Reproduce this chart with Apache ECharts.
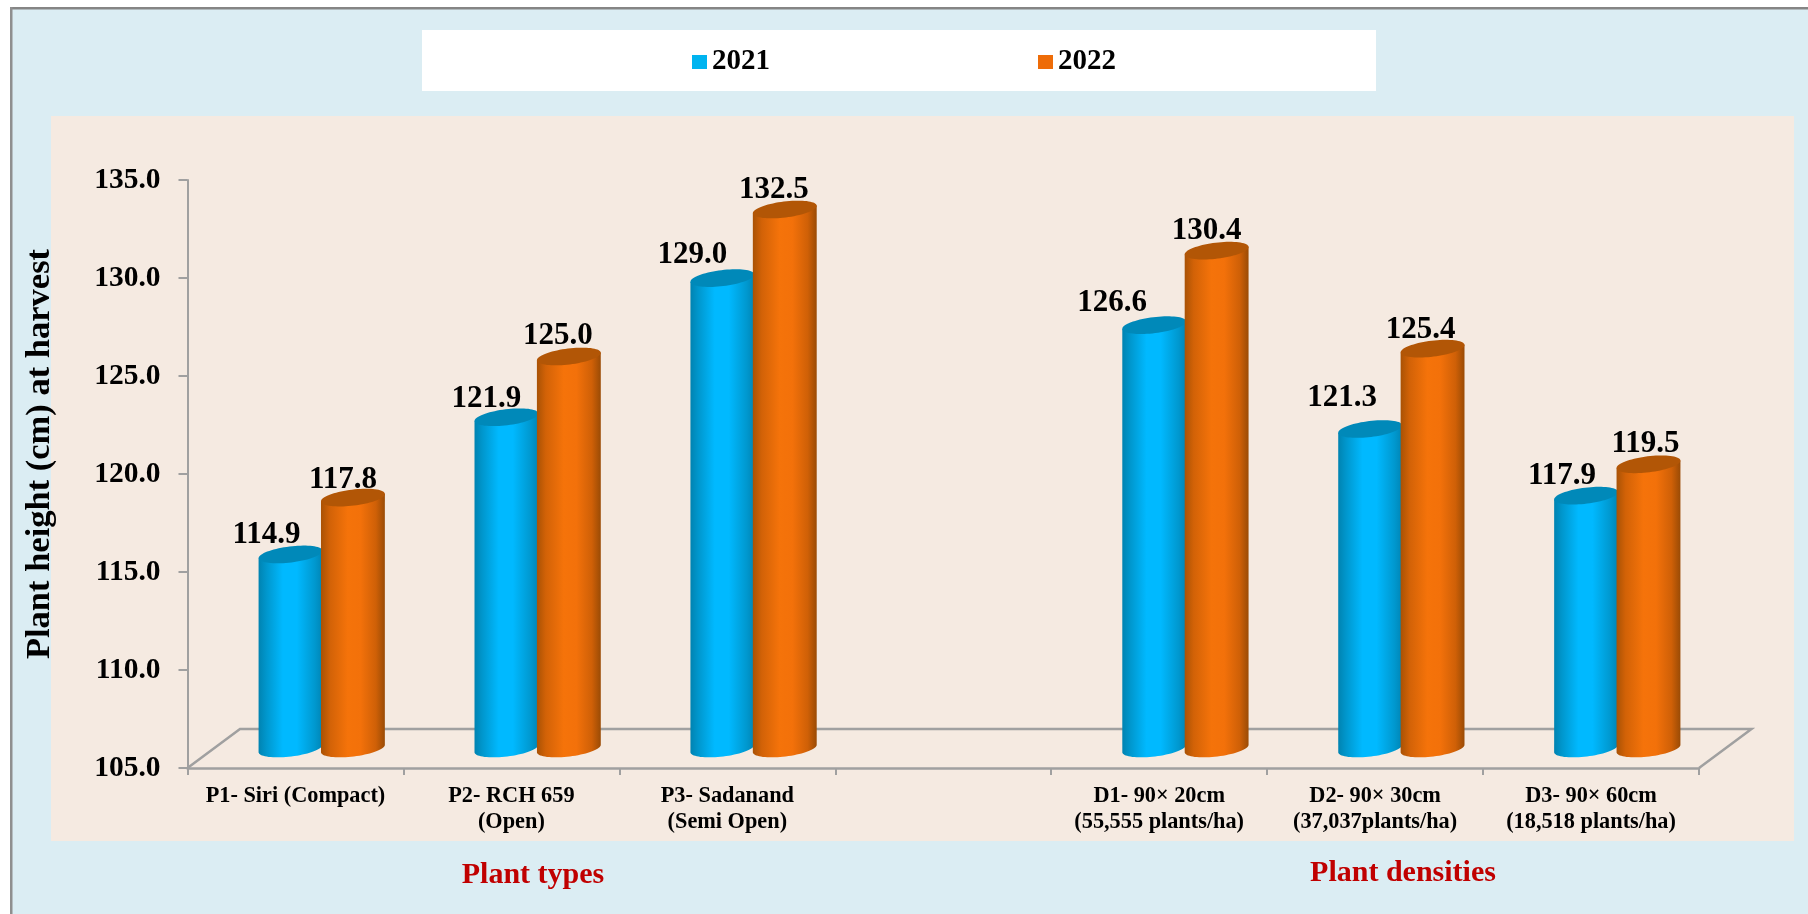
<!DOCTYPE html>
<html><head><meta charset="utf-8">
<style>html,body{margin:0;padding:0;background:#fff}#c{width:1808px;height:914px}</style>
<script src="https://cdn.jsdelivr.net/npm/echarts@6/dist/echarts.min.js"></script>
</head><body><div id="c"></div>
<script>
const categories = ['P1- Siri (Compact)','P2- RCH 659\n(Open)','P3- Sadanand\n(Semi Open)','','D1- 90× 20cm\n(55,555 plants/ha)','D2- 90× 30cm\n(37,037plants/ha)','D3- 90× 60cm\n(18,518 plants/ha)'];
const seriesNames = ['2021','2022'];
const values2021 = [114.9,121.9,129.0,null,126.6,121.3,117.9];
const values2022 = [117.8,125.0,132.5,null,130.4,125.4,119.5];
const axisTitle = 'Plant height (cm) at harvest';
const groupTitles = ['Plant types','Plant densities'];

// hand-placed data label nudges in the reference [dx, dy]
const labelNudge2021 = [[-24,-19],[-20,-18],[-30,-23],null,[-42,-22],[-28,-31],[-24,-20]];
const labelNudge2022 = [[-10,-18],[-11,-21],[-11,-20],null,[-10,-20],[-12,-19],[-3,-20]];

const SERIF = '"Liberation Serif","Times New Roman",serif';
const DEPTH_X = 52.5, DEPTH_Y = 39;

function vGrad(stops){
  return {type:'linear',x:0,y:0,x2:1,y2:0,colorStops:stops.map(s=>({offset:s[0],color:s[1]}))};
}
const looks = [
  {body:vGrad([[0,'#0083b1'],[0.12,'#0096cc'],[0.38,'#00b9ff'],[0.6,'#00b9ff'],[0.88,'#0098cf'],[1,'#0085b5']]),cap:'#0089b9'},
  {body:vGrad([[0,'#a95205'],[0.14,'#d26207'],[0.42,'#f5730a'],[0.62,'#f3710a'],[0.86,'#cf6007'],[1,'#9a4b05']]),cap:'#b25606'}
];
const pal = ['#00b4f0','#ee6c08'];
const BAR_W = 0.298, BAR_STEP = 0.289, RY = 8, TILT = 7*Math.PI/180;

function ell(cx,cy,rx,ry,t){
  return [cx+rx*Math.cos(t)*Math.cos(TILT)+ry*Math.sin(t)*Math.sin(TILT),
          cy-rx*Math.cos(t)*Math.sin(TILT)+ry*Math.sin(t)*Math.cos(TILT)];
}
function barItem(sIdx, nudges){
  return function(params, api){
    const v = api.value(1);
    if (v==null || isNaN(v)) return;
    const idx = api.value(0);
    const top = api.coord([idx,v]), base = api.coord([idx,105]);
    const band = api.size([1,0])[0];
    const cx = top[0]+DEPTH_X/2+(sIdx===0?-0.5:0.5)*band*BAR_STEP;
    const yT = top[1]-DEPTH_Y/2, yB = base[1]-DEPTH_Y/2;
    const rx = band*BAR_W/2;
    const outline = [], cap = [];
    outline.push(ell(cx,yT,rx,RY,Math.PI));
    for(let i=0;i<=36;i++) outline.push(ell(cx,yB,rx,RY,Math.PI-Math.PI*i/36));
    outline.push(ell(cx,yT,rx,RY,0));
    for(let i=0;i<72;i++) cap.push(ell(cx,yT,rx,RY,2*Math.PI*i/72));
    const n = nudges[idx];
    return {type:'group',children:[
      {type:'polygon',shape:{points:outline},style:{fill:looks[sIdx].body}},
      {type:'polygon',shape:{points:cap},style:{fill:looks[sIdx].cap}},
      {type:'text',x:cx+n[0],y:yT+n[1],style:{text:v.toFixed(1),fill:'#000',
        font:'bold 31px '+SERIF,textAlign:'center',textVerticalAlign:'middle'}}
    ]};
  };
}
function floorItem(params){
  const c = params.coordSys;
  const l=c.x, r=c.x+c.width, b=c.y+c.height;
  return {type:'group',children:[
    {type:'polyline',shape:{points:[[l,b],[l+DEPTH_X,b-DEPTH_Y],[r+DEPTH_X,b-DEPTH_Y],[r,b]]},
     style:{fill:'none',stroke:'#a0a0a0',lineWidth:2.5}}
  ]};
}

const chart = echarts.init(document.getElementById('c'),null,{renderer:'canvas'});
chart.setOption({
  animation:false,
  color:pal,
  backgroundColor:'#ffffff',
  graphic:[
    {type:'rect',z:-30,shape:{x:10,y:8,width:1798,height:906},style:{fill:'#dbedf3'}},
    {type:'rect',z:-29,shape:{x:10,y:7,width:1798,height:2.5},style:{fill:'#858585'}},
    {type:'rect',z:-29,shape:{x:10,y:7,width:2.5,height:907},style:{fill:'#8f8f8f'}},
    {type:'rect',z:-20,shape:{x:51,y:116,width:1743,height:725},style:{fill:'#f5eae1'}},
    {type:'rect',z:-20,shape:{x:422,y:30,width:954,height:61},style:{fill:'#ffffff'}}
  ],
  title:[
    {text:groupTitles[0],left:528,top:870,textAlign:'center',textVerticalAlign:'middle',textStyle:{fontFamily:SERIF,fontWeight:'bold',fontSize:30,color:'#c00000'}},
    {text:groupTitles[1],left:1398,top:868,textAlign:'center',textVerticalAlign:'middle',textStyle:{fontFamily:SERIF,fontWeight:'bold',fontSize:30,color:'#c00000'}}
  ],
  legend:{
    data:seriesNames,left:692,top:47.5,padding:0,icon:'rect',itemWidth:15,itemHeight:14,itemGap:268,
    textStyle:{fontFamily:SERIF,fontWeight:'bold',fontSize:29,color:'#000'}
  },
  grid:{left:187.5,top:180,width:1511.5,height:588,outerBoundsMode:'none'},
  xAxis:{
    type:'category',data:categories,
    axisLine:{lineStyle:{color:'#a0a0a0',width:2.5}},
    axisTick:{show:true,length:7,alignWithLabel:false,lineStyle:{color:'#a0a0a0',width:2}},
    axisLabel:{interval:0,fontFamily:SERIF,fontWeight:'bold',fontSize:22.3,color:'#000',lineHeight:26,margin:15.5,verticalAlign:'top'},
    splitLine:{show:false}
  },
  yAxis:{
    type:'value',min:105,max:135,interval:5,
    name:axisTitle,nameLocation:'middle',nameRotate:90,nameGap:129.5,nameMoveOverlap:false,
    nameTextStyle:{fontFamily:SERIF,fontWeight:'bold',fontSize:34.5,color:'#000',padding:[0,0,0,40]},
    axisLine:{show:true,lineStyle:{color:'#a0a0a0',width:2}},
    axisTick:{show:true,length:9,lineStyle:{color:'#a0a0a0',width:2}},
    axisLabel:{margin:27,fontFamily:SERIF,fontWeight:'bold',fontSize:29.5,color:'#000',padding:[3,0,0,0],formatter:v=>v.toFixed(1)},
    splitLine:{show:false}
  },
  series:[
    {type:'custom',name:'floor',silent:true,z:1,renderItem:floorItem,data:[[0,105]],encode:{x:0,y:1}},
    {type:'custom',name:seriesNames[0],z:2,itemStyle:{color:pal[0]},renderItem:barItem(0,labelNudge2021),
     data:values2021.map((v,i)=>[i,v]),encode:{x:0,y:1}},
    {type:'custom',name:seriesNames[1],z:3,itemStyle:{color:pal[1]},renderItem:barItem(1,labelNudge2022),
     data:values2022.map((v,i)=>[i,v]),encode:{x:0,y:1}}
  ]
});
</script></body></html>
